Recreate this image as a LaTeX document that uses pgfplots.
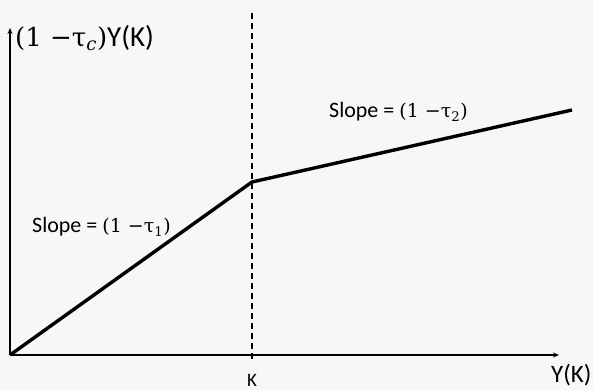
\documentclass[border=0pt]{standalone}
\usepackage{fontspec}
\setmainfont{Carlito}
\newfontfamily\mathish{DejaVu Serif}
\usepackage{pgfplots}
\pgfplotsset{compat=1.18}
\usetikzlibrary{arrows.meta}
\definecolor{bg}{HTML}{F7F7F7}
\newcommand{\fs}[1]{\fontsize{#1}{#1}\selectfont}
\begin{document}
\begin{tikzpicture}[x=1pt,y=1pt]
\fill[bg] (0,0) rectangle (593,390);
\begin{axis}[
  at={(10pt,35pt)}, anchor=origin,
  scale only axis, width=549pt, height=327pt,
  xmin=0, xmax=549, ymin=0, ymax=327,
  axis lines=left, axis line style={line width=1.6pt, -{Stealth[length=6pt,width=5pt]}},
  xtick=\empty, ytick=\empty,
  clip=false,
]
% kink at K
\addplot[black, line width=1.3pt, dash pattern=on 6pt off 4pt] coordinates {(242,-4) (242,345)};
% piecewise after-tax income
\addplot[black, line width=3.4pt, line join=round] coordinates {(0,0) (242,173) (562,245)};
\node[anchor=base west, inner sep=0] at (axis cs:5,308) {\fs{29}{\mathish\fs{26}(1 −τ\textsubscript{\itshape c})}Y(K)};
\node[anchor=base west, inner sep=0] at (axis cs:319,237) {\fs{22}Slope = {\mathish\fs{19}(1 −τ\textsubscript{2})}};
\node[anchor=base west, inner sep=0] at (axis cs:22,122) {\fs{22}Slope = {\mathish\fs{19}(1 −τ\textsubscript{1})}};
\node[anchor=base, inner sep=0] at (axis cs:242,-31) {\fs{19}K};
\node[anchor=base west, inner sep=0] at (axis cs:541,-27) {\fs{25}Y(K)};
\end{axis}
\end{tikzpicture}
\end{document}
